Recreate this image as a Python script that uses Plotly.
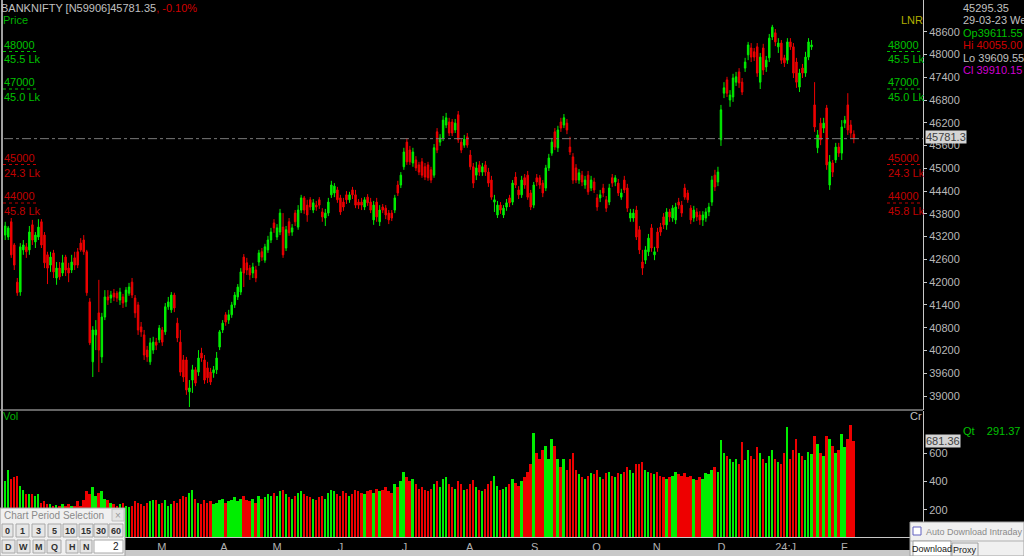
import plotly.graph_objects as go

W, H = 1024, 556

# ---------------- data ----------------
open_ = [
43240,43190,43590,42980,42000,41740,42850,42930,42850,43510,
43060,43190,43590,43240,42720,42450,42770,42110,42370,42240,
42660,42370,42320,42640,42800,43030,43110,42800,41480,39900,
40610,41190,40030,41080,41610,41580,41710,41710,41530,41610,
41480,41710,42000,41580,41400,40820,40610,40210,39900,40210,
40420,40480,40740,40690,41350,41270,41660,40920,40420,39950,
39950,39110,39420,39690,39630,40130,39950,39740,39630,39610,
39690,40290,40740,41140,41000,41140,41400,41610,41740,42660,
42510,42370,42240,42320,42530,42800,42580,42850,43110,43560,
43190,43320,43450,42900,43590,43320,43820,43450,43900,44220,
44030,44170,43900,44030,44170,43850,43690,43820,44300,44350,
44430,44220,44110,44300,44170,44430,44300,44110,44110,43980,
44240,44110,43640,44110,43590,43980,43950,43820,43820,43900,
44560,44560,45040,45690,45480,45140,45220,45090,45170,45040,
45090,44960,44820,45960,45690,45800,46140,46220,46220,46010,
46410,45690,45610,45830,45350,45040,44820,45090,44900,45090,
44900,44690,44110,43770,44030,43770,43980,44220,44110,44770,
44430,44300,44750,44820,44350,44030,44750,44750,44610,44480,
45010,45400,45960,45540,46220,46140,46190,45560,45300,45010,
44690,44820,44560,44820,44480,44640,44220,44220,44480,44170,
44110,44750,44640,44610,44240,44690,44480,43690,43690,43900,
43380,42530,42580,42800,43430,42720,43320,43450,43720,43510,
43850,43690,43640,44110,44030,44480,44350,43950,43690,43850,
43770,43640,43690,43850,44110,44820,44640,45750,46980,47330,
46800,46880,47270,47540,47270,47640,47990,48170,48070,48200,
47270,48170,47670,47910,48460,48570,48200,48300,47910,47850,
48330,48200,47800,47140,47640,47510,47930,48200,46670,45540,
46190,46060,46590,44560,45140,45220,45560,45400,46190,46670,
46140,45900]

high = [
43590,43480,43690,43030,42110,43030,43110,43030,43480,43640,
43320,43660,43660,43320,42800,42800,42850,42530,42530,42720,
42720,42510,42720,42800,42900,43160,43240,42850,41580,40840,
41000,42060,41190,41790,41790,41770,41820,41770,41850,41690,
41870,41980,42110,41660,41480,40950,40740,40320,40530,40560,
40530,40870,40820,41450,41610,41740,41720,41060,40740,40080,
40030,39420,39820,39760,40210,40270,40080,39900,39740,39790,
40160,40740,41000,41210,41270,41480,41740,41950,42370,42740,
42640,42450,42510,42430,42850,42900,43010,43220,43430,43660,
43530,43930,43820,43480,43690,43530,43900,44030,44300,44270,
44170,44240,44190,44140,44240,43950,43930,44220,44670,44610,
44510,44300,44220,44400,44380,44510,44430,44190,44220,44240,
44320,44220,44140,44220,44030,44060,44030,43900,43900,44300,
44670,44900,45540,45800,45590,45540,45320,45170,45270,45140,
45170,45040,45640,46060,45900,46380,46460,46330,46300,46300,
46510,45770,45880,45930,45480,45140,45170,45190,45140,45190,
45010,44800,44300,44140,44110,44030,44190,44300,44690,44900,
44530,44800,44850,44930,44430,44640,44850,44820,44690,45090,
45380,45800,46060,46120,46330,46430,46300,45830,45400,45110,
44980,44930,44800,44930,44800,44750,44320,44430,44590,44270,
44590,44850,44820,44720,44460,44800,44590,43930,43930,44010,
43480,42850,42950,43270,43530,42930,43430,43560,43820,43950,
43930,44030,44090,44220,44140,44590,44430,44030,44010,43950,
43870,43870,43950,44090,44800,44960,45040,46670,47270,47410,
47060,47490,47540,47640,47380,47910,48330,48300,48170,48300,
48040,48280,47960,48540,48780,48670,48430,48380,47990,48430,
48430,48300,47910,47620,47750,48070,48430,48380,47270,46010,
46330,46330,46670,45350,45220,45670,45670,46270,46380,46980,
46270,46000]

low = [
43110,43110,42640,42320,41640,41640,42720,42640,42720,42980,
42900,43110,42900,42370,41950,42270,42110,41930,42060,42160,
42160,42000,42240,42320,42370,42800,42720,41640,40340,39500,
40210,39630,39870,41000,41400,41450,41500,41480,41400,41320,
41350,41640,41580,41060,40610,40560,39950,39900,39820,40110,
40210,40400,40320,40610,41270,41190,41210,40420,39530,39370,
39030,38710,39080,39260,39530,39900,39320,39340,39290,39480,
39580,40210,40660,40850,40900,41060,41320,41530,41660,41870,
42190,42060,42110,42000,42430,42560,42510,42770,43030,43300,
43110,43240,42640,42820,43220,43220,43480,43380,43820,43800,
43590,43900,43820,43880,43930,43590,43480,43740,44220,44240,
44090,43770,43880,44060,44090,44190,43950,43930,43900,43900,
44010,43820,43510,43590,43480,43820,43660,43530,43610,43820,
44270,44480,44960,45090,45090,45040,44930,44820,44750,44690,
44670,44610,44750,45400,45590,45720,46060,45850,45850,45930,
45670,45400,45540,45540,44960,44480,44690,44800,44800,44800,
44510,44170,43850,43690,43800,43690,43880,43980,44030,44480,
44190,44220,44460,44170,43900,43950,44530,44460,44240,44400,
44930,45330,45480,45430,45960,46060,45900,45350,44590,44610,
44590,44530,44460,44300,44400,44350,43880,44110,44240,43850,
44030,44510,44530,44270,44170,44350,43850,43590,43590,43110,
42740,42190,42480,42690,42800,42580,42800,43220,43400,43380,
43590,43590,43530,43930,43720,44170,44090,43530,43590,43610,
43510,43480,43590,43740,44010,44400,44530,45590,46850,46880,
46620,46750,47170,47120,46930,47540,47850,47800,47830,47410,
47090,47460,47540,47800,48380,48220,48040,47750,47670,47750,
48120,47380,47120,47010,47380,47410,47850,48120,45960,45400,
45610,45930,44960,44430,44770,45140,45300,45220,46060,45880,
45800,45660]

close = [
43480,43430,42720,42450,41720,42930,42980,42800,43320,43110,
43240,43450,42980,42510,42370,42660,42270,42370,42140,42510,
42320,42240,42530,42450,42450,42850,42800,41720,40400,40740,
40740,40210,41080,41610,41530,41660,41610,41580,41740,41450,
41790,41870,41660,41190,40740,40690,40080,40030,40400,40420,
40340,40790,40420,41350,41480,41660,41320,40530,39630,39500,
39160,39210,39690,39340,40000,40000,39420,39480,39370,39690,
40000,40690,40920,40950,41140,41400,41660,41870,42270,42240,
42320,42190,42400,42110,42770,42660,42930,43110,43320,43430,
43430,43820,42720,43380,43300,43430,43590,43900,44220,43900,
43770,43980,44090,43980,44030,43720,43820,44110,44560,44530,
44170,43850,43980,44170,44300,44300,44030,44030,44030,44170,
44090,43900,44030,43720,43900,43900,43770,43640,43690,44220,
44350,44820,45430,45170,45170,45430,45010,44900,44820,44770,
44750,44690,45540,45480,45800,46270,46330,45930,45930,46190,
45750,45480,45770,45610,45040,44610,45010,44900,45040,44900,
44610,44240,44170,44030,43900,43950,44090,44090,44610,44560,
44300,44690,44560,44240,43980,44560,44640,44560,44350,45010,
45270,45690,45560,46010,46060,46330,46010,45430,44690,44690,
44880,44640,44690,44380,44690,44430,43980,44300,44350,43950,
44480,44610,44750,44350,44350,44430,43950,43820,43820,43190,
42850,42370,42850,43160,42900,42800,42900,43320,43510,43850,
43720,43950,43980,44030,43820,44240,44170,43640,43900,43720,
43640,43770,43850,43980,44690,44510,44900,46540,47120,46980,
46930,47380,47410,47250,47010,47800,48250,47930,47930,47510,
47930,47590,47850,48430,48720,48330,48300,47850,47780,48330,
48200,47510,47270,47510,47510,47930,48330,48250,46090,45880,
45750,46190,45090,45170,44900,45560,45400,46090,46270,46010,
45930,45781.35]

volume = [
400,480,420,430,440,370,340,310,310,310,
300,310,250,260,240,240,230,235,230,245,
230,240,230,225,260,230,270,330,310,360,
300,320,330,280,270,250,240,230,240,250,
230,220,230,260,250,240,230,250,260,270,
270,240,250,270,230,240,260,250,280,300,
290,320,340,280,250,240,270,250,260,240,
250,270,280,250,260,270,290,260,280,300,
270,260,280,250,300,280,290,310,300,320,
300,330,340,310,290,280,300,320,330,310,
300,290,280,270,290,300,280,320,340,330,
310,300,330,320,300,310,340,330,320,310,
330,340,320,350,330,340,360,330,320,380,
360,400,470,430,400,420,380,350,360,340,
330,350,380,400,360,420,430,380,360,350,
400,380,340,350,380,410,360,340,330,350,
380,400,440,370,340,350,360,380,420,390,
370,400,430,470,520,740,600,560,620,650,
560,700,650,560,500,560,480,560,600,480,
450,430,420,440,460,450,480,430,420,460,
470,440,430,460,450,470,500,480,460,520,
520,540,480,470,460,450,470,440,430,420,
430,440,470,450,440,460,430,440,420,410,
430,420,460,450,480,500,470,690,600,580,
560,540,560,520,680,550,620,580,560,640,
600,560,530,580,620,560,540,520,600,780,
560,620,700,600,580,550,610,590,720,660,
600,580,720,700,650,600,620,730,640,700,
800,681.36]

month_labels = ["M", "A", "M", "J", "J", "A", "S", "O", "N", "D", "24:J", "F"]
month_pos = [51.9, 72.4, 90.0, 111.0, 132.2, 153.8, 175.3, 195.8, 215.7, 237.2, 258.4, 277.9]

price_ticks = [39000, 39600, 40200, 40800, 41400, 42000, 42600, 43200, 43800,
               44400, 45000, 45600, 46200, 46800, 47400, 48000, 48600]
vol_ticks = [200, 400, 600]

title_name = "BANKNIFTY [N59906]45781.35"
title_change = ", -0.10%"
last_price = 45781.35
last_vol = 681.36
info_lines = [("45295.35", "#c0c0c0"), ("29-03-23 We", "#c0c0c0"),
              ("Op39611.55", "#00c000"), ("Hi 40055.00", "#d00000"),
              ("Lo 39609.55", "#c0c0c0"), ("Cl 39910.15", "#d000d0")]
level_labels = [("48000", "45.5 Lk", "#00c000"), ("47000", "45.0 Lk", "#00c000"),
                ("45000", "24.3 Lk", "#c00000"), ("44000", "45.8 Lk", "#c00000")]

# ---------------- styling ----------------
GREEN = "#00ee00"
RED = "#ee0000"
AX = "#c8c8c8"
FONT = "Liberation Sans, Arial, sans-serif"

PLOT_R = 923 / W
PRICE_BOTTOM = 410
VOL_TOP, VOL_BOTTOM = 411, 537


def px(x):
    return x / W


def py(y):
    return 1 - y / H


fig = go.Figure()
idx = list(range(len(close)))

fig.add_trace(go.Candlestick(
    x=idx, open=open_, high=high, low=low, close=close,
    increasing=dict(line=dict(color=GREEN, width=1), fillcolor=GREEN),
    decreasing=dict(line=dict(color=RED, width=1), fillcolor=RED),
    whiskerwidth=0, xaxis="x", yaxis="y", showlegend=False, hoverinfo="skip"))

vol_colors = [GREEN if c >= o else RED for o, c in zip(open_, close)]
fig.add_trace(go.Bar(x=idx, y=volume, marker=dict(color=vol_colors, line=dict(width=0)),
                     width=0.62, xaxis="x", yaxis="y2", showlegend=False, hoverinfo="skip"))

fig.update_layout(
    width=W, height=H, margin=dict(l=0, r=0, t=0, b=0),
    paper_bgcolor="black", plot_bgcolor="black", showlegend=False,
    bargap=0,
    xaxis=dict(domain=[px(4), PLOT_R], range=[-0.4, 303.9], anchor="y2",
               showgrid=False, zeroline=False, showline=True, linecolor=AX, linewidth=1,
               tickvals=month_pos, ticktext=month_labels, ticks="",
               tickfont=dict(family=FONT, size=11, color="#b0b0b0"),
               rangeslider=dict(visible=False), fixedrange=True),
    yaxis=dict(domain=[py(PRICE_BOTTOM), 1], range=[38631, 49435], side="right", anchor="x",
               showgrid=False, zeroline=False, showline=True, linecolor=AX, linewidth=1,
               tickvals=price_ticks, tickformat="d", ticks="outside", ticklen=3, tickcolor=AX,
               tickfont=dict(family=FONT, size=11, color="#b8b8b8")),
    yaxis2=dict(domain=[py(VOL_BOTTOM), py(VOL_TOP)], range=[10, 895], side="right", anchor="x",
                showgrid=False, zeroline=False, showline=True, linecolor=AX, linewidth=1,
                tickvals=vol_ticks, tickformat="d", ticks="outside", ticklen=3, tickcolor=AX,
                tickfont=dict(family=FONT, size=11, color="#b8b8b8")),
)

shapes = []
# last price dash-dot line
shapes.append(dict(type="line", xref="x", yref="y", x0=-0.4, x1=303.9, y0=last_price, y1=last_price,
                   line=dict(color="#7a7a7a", width=1, dash="dashdot")))
# pane separator + borders
shapes.append(dict(type="line", xref="paper", yref="paper", x0=0, x1=PLOT_R, y0=py(410), y1=py(410),
                   line=dict(color=AX, width=1)))
shapes.append(dict(type="line", xref="paper", yref="paper", x0=px(2), x1=px(2), y0=py(0), y1=py(548),
                   line=dict(color="#a0a0a0", width=2)))
# bottom gray strip
shapes.append(dict(type="rect", xref="paper", yref="paper", x0=0, x1=1, y0=py(556), y1=py(550),
                   fillcolor="#c8c8c8", line=dict(width=0)))

ann = []


def text(t, x, y, color, size=11, xanchor="left", bg=None, bold=False, font=FONT):
    if bold:
        t = "<b>" + t + "</b>"
    d = dict(x=px(x), y=py(y), xref="paper", yref="paper", text=t, showarrow=False,
             xanchor=xanchor, yanchor="middle", font=dict(family=font, size=size, color=color),
             borderpad=0)
    if bg:
        d["bgcolor"] = bg
    ann.append(d)


# title
text(title_name + "<span style='color:#d00000'>" + title_change + "</span>", 0, 8, "#c0c0c0")
text("Price", 2, 20, "#00b000")
text("LNR", 900, 20, "#b0b000")

# level labels left & right
lvl_y = [(45, 51.5, 59), (82, 89, 97), (158, 164.5, 173), (196, 203, 211.5)]
for (top, bot, col), (y1, yl, y2) in zip(level_labels, lvl_y):
    for x0, x1 in [(3, 38), (887, 923)]:
        text(top, x0, y1, col)
        text(bot, x0, y2, col)
        shapes.append(dict(type="line", xref="paper", yref="paper", x0=px(x0), x1=px(x1),
                           y0=py(yl), y1=py(yl), line=dict(color=col, width=1, dash="dot")))

# info box top right
for k, (t, c) in enumerate(info_lines):
    text(t, 962, 8 + k * 12.4, c)

# last price / volume tags
text(f"{last_price:.1f}"[:7], 925, 137, "#404040", bg="#d4d4d4")
text(f"{last_vol:.2f}", 925, 441, "#404040", bg="#d4d4d4")

text("Vol", 2, 416, "#00b000")
text("Cr", 909, 416, "#c0c0c0")
text("Qt&nbsp;&nbsp;&nbsp;&nbsp;291.37", 962, 431, "#00c000")

# ---------------- popup: Chart Period Selection ----------------
shapes.append(dict(type="rect", xref="paper", yref="paper", x0=px(0), x1=px(125), y0=py(556), y1=py(508),
                   fillcolor="#f0f0f0", line=dict(color="#a0a0a0", width=1)))
text("Chart Period Selection", 3, 515.5, "#8a8a8a", size=10)
shapes.append(dict(type="rect", xref="paper", yref="paper", x0=px(112), x1=px(124), y0=py(521), y1=py(509),
                   fillcolor="#e4e4e4", line=dict(color="#c0c0c0", width=1)))
text("×", 118, 515, "#9a9a9a", size=10, xanchor="center")
row1 = [("0", 2, 13), ("1", 16, 29), ("3", 32, 45), ("5", 48, 61), ("10", 63, 77),
        ("15", 79, 93), ("30", 94, 108), ("60", 109, 123)]
for lab, a, b in row1:
    shapes.append(dict(type="rect", xref="paper", yref="paper", x0=px(a), x1=px(b), y0=py(537), y1=py(524),
                       fillcolor="#e6e6e6", line=dict(color="#a8a8a8", width=1)))
    text(lab, (a + b) / 2, 530.5, "#303030", size=9, xanchor="center", bold=True)
row2 = [("D", 2, 15), ("W", 17, 30), ("M", 33, 45), ("Q", 47, 61), ("H", 66, 78), ("N", 80, 92)]
for lab, a, b in row2:
    shapes.append(dict(type="rect", xref="paper", yref="paper", x0=px(a), x1=px(b), y0=py(553), y1=py(540),
                       fillcolor="#e6e6e6", line=dict(color="#a8a8a8", width=1)))
    text(lab, (a + b) / 2, 546.5, "#303030", size=9, xanchor="center", bold=True)
shapes.append(dict(type="rect", xref="paper", yref="paper", x0=px(94), x1=px(123), y0=py(553), y1=py(540),
                   fillcolor="#ffffff", line=dict(color="#a8a8a8", width=1)))
text("2", 120, 546.5, "#202020", size=10, xanchor="right")

# ---------------- popup: Auto Download ----------------
shapes.append(dict(type="rect", xref="paper", yref="paper", x0=px(910), x1=px(1024), y0=py(556), y1=py(522),
                   fillcolor="#f0f0f0", line=dict(color="#a0a0a0", width=1)))
shapes.append(dict(type="rect", xref="paper", yref="paper", x0=px(913), x1=px(921), y0=py(535), y1=py(527),
                   fillcolor="#ffffff", line=dict(color="#6060c0", width=1)))
text("Auto Download Intraday fi", 925, 531.5, "#8a8a8a", size=9)
shapes.append(dict(type="line", xref="paper", yref="paper", x0=px(910), x1=px(1024), y0=py(541), y1=py(541),
                   line=dict(color="#b0b0b0", width=1)))
shapes.append(dict(type="rect", xref="paper", yref="paper", x0=px(913), x1=px(951), y0=py(556), y1=py(541),
                   fillcolor="#ffffff", line=dict(color="#a0a0a0", width=1)))
text("Download", 932, 549, "#202020", size=9, xanchor="center")
shapes.append(dict(type="rect", xref="paper", yref="paper", x0=px(952), x1=px(978), y0=py(556), y1=py(543),
                   fillcolor="#f0f0f0", line=dict(color="#a0a0a0", width=1)))
text("Proxy", 965, 550, "#202020", size=9, xanchor="center")

fig.update_layout(shapes=shapes, annotations=ann)
fig.write_html("out.html", config={"displayModeBar": False},
               post_script="document.body.style.margin='0';document.body.style.overflow='hidden';")
